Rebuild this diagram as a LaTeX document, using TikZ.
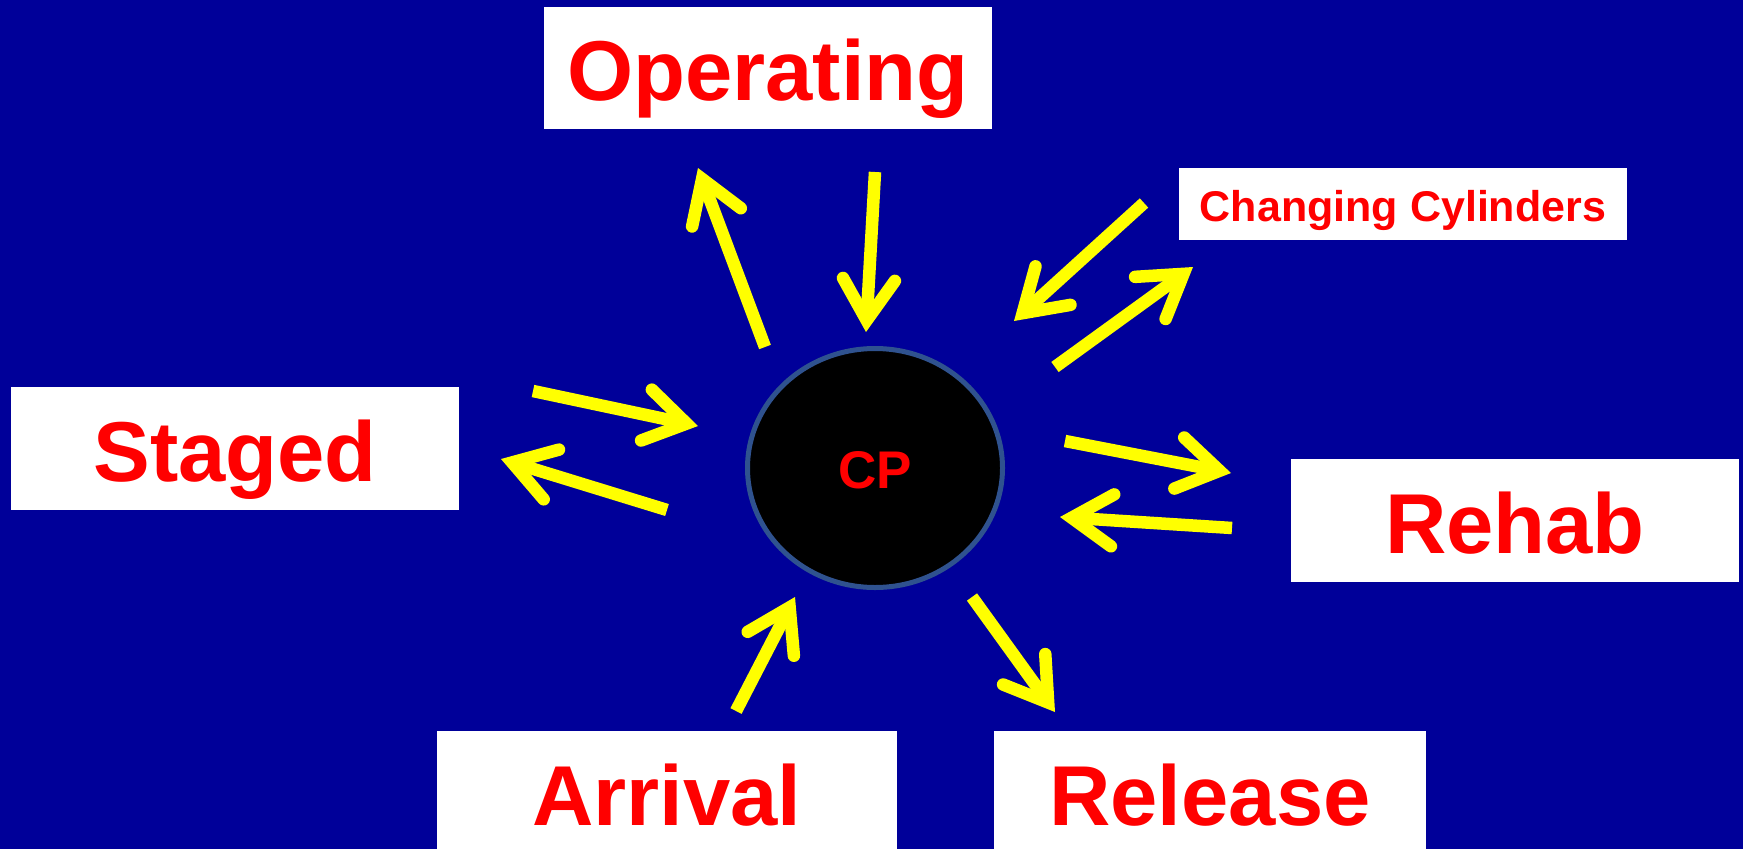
\documentclass[tikz,border=0pt]{standalone}
\usepackage{fontspec}
\setmainfont{Liberation Sans}
\usetikzlibrary{arrows.meta,shapes.geometric}
\definecolor{bg}{RGB}{0,0,153}
\definecolor{ringblue}{RGB}{47,82,143}
\definecolor{arrowyellow}{RGB}{255,255,0}
\definecolor{labelred}{RGB}{255,0,0}
\begin{document}
\begin{tikzpicture}[x=1pt,y=-1pt,
  labelbox/.style={fill=white, draw=none, inner sep=0pt, text=labelred,
    font=\fontsize{85}{90}\selectfont\bfseries, text height=65pt, text depth=0pt},
  smallbox/.style={labelbox, font=\fontsize{43}{50}\selectfont\bfseries, text height=34pt},
  hub/.style={ellipse, fill=black, draw=ringblue, line width=5pt, inner sep=0pt,
    minimum width=255pt, minimum height=239pt, text=labelred,
    font=\fontsize{53}{60}\selectfont\bfseries, text height=40pt, text depth=0pt},
  flow/.style={draw=arrowyellow, line width=12.5pt,
    -{Straight Barb[length=41pt,width=52pt,line cap=round,line join=miter]}}]
\useasboundingbox (0,0) rectangle (1743,849);
\fill[bg] (0,0) rectangle (1743,849);

\node[labelbox, minimum width=448pt, minimum height=122pt] (op) at (768,68) {Operating};
\node[smallbox, minimum width=448pt, minimum height=72pt] (cc) at (1403,204) {Changing Cylinders};
\node[labelbox, minimum width=448pt, minimum height=123pt] (st) at (235,448.5) {Staged};
\node[labelbox, minimum width=448pt, minimum height=123pt] (rh) at (1515,520.5) {Rehab};
\node[labelbox, minimum width=460pt, minimum height=123pt] (ar) at (667,792.5) {Arrival};
\node[labelbox, minimum width=432pt, minimum height=123pt] (rl) at (1210,792.5) {Release};
\node[hub] (cp) at (875,468) {CP};

% arrow end points
\coordinate (opUpA) at (765,347);   \coordinate (opUpB) at (698,168);
\coordinate (opDnA) at (875,172);   \coordinate (opDnB) at (866,332);
\coordinate (ccInA) at (1144,203);  \coordinate (ccInB) at (1014,321);
\coordinate (ccOutA) at (1055,367); \coordinate (ccOutB) at (1193,267);
\coordinate (stInA) at (533,391);   \coordinate (stInB) at (698,426);
\coordinate (stOutA) at (667,510);  \coordinate (stOutB) at (501,459);
\coordinate (rhOutA) at (1065,441); \coordinate (rhOutB) at (1231,473);
\coordinate (rhInA) at (1232,528);  \coordinate (rhInB) at (1060,517);
\coordinate (rlA) at (972,597);     \coordinate (rlB) at (1055,712);
\coordinate (arA) at (736,711);     \coordinate (arB) at (795,597);

\draw[flow] (opUpA) -- (opUpB);
\draw[flow] (opDnA) -- (opDnB);
\draw[flow] (ccInA) -- (ccInB);
\draw[flow] (ccOutA) -- (ccOutB);
\draw[flow] (stInA) -- (stInB);
\draw[flow] (stOutA) -- (stOutB);
\draw[flow] (rhOutA) -- (rhOutB);
\draw[flow] (rhInA) -- (rhInB);
\draw[flow] (rlA) -- (rlB);
\draw[flow] (arA) -- (arB);
\end{tikzpicture}
\end{document}
